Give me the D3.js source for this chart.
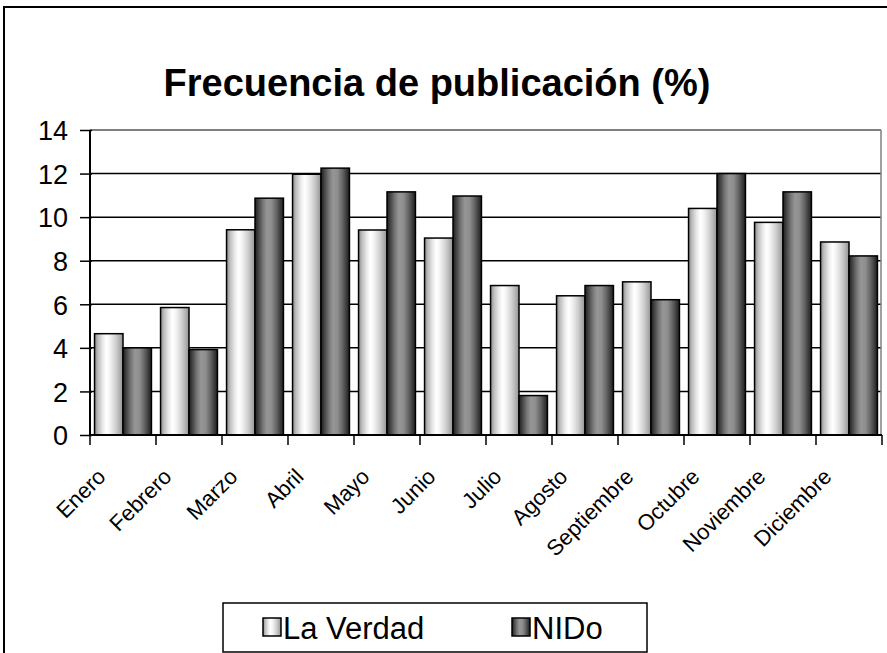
<!DOCTYPE html>
<html><head><meta charset="utf-8">
<script src="https://cdn.jsdelivr.net/npm/d3@7"></script>
<style>html,body{margin:0;padding:0;background:#fff}svg{display:block}text{font-family:"Liberation Sans",Arial,sans-serif;fill:#000}</style>
</head><body>
<svg id="c" width="887" height="653"></svg>
<script>
const title = "Frecuencia de publicación (%)";
const categories = ["Enero","Febrero","Marzo","Abril","Mayo","Junio","Julio","Agosto","Septiembre","Octubre","Noviembre","Diciembre"];
const seriesNames = ["La Verdad","NIDo"];
const laVerdad = [4.65, 5.85, 9.42, 11.97, 9.41, 9.04, 6.86, 6.39, 7.03, 10.40, 9.76, 8.86];
const nido     = [4.0, 3.92, 10.87, 12.25, 11.16, 10.97, 1.81, 6.86, 6.21, 12.0, 11.16, 8.22];
const yTicks = [0,2,4,6,8,10,12,14];

const svg = d3.select("#c");
const defs = svg.append("defs");
function grad(id, stops){
  const g = defs.append("linearGradient").attr("id", id).attr("x1","0%").attr("x2","100%").attr("y1","0%").attr("y2","0%");
  stops.forEach(s => g.append("stop").attr("offset", s[0]).attr("stop-color", s[1]));
}
grad("gLight", [["0%","#8a8a8a"],["12%","#bdbdbd"],["30%","#ececec"],["42%","#ffffff"],["55%","#f2f2f2"],["75%","#cfcfcf"],["92%","#a8a8a8"],["100%","#8c8c8c"]]);
grad("gDark", [["0%","#1e1e1e"],["12%","#444"],["28%","#777"],["42%","#969696"],["58%","#8e8e8e"],["75%","#666"],["90%","#3a3a3a"],["100%","#1e1e1e"]]);
const fills = {"La Verdad":"url(#gLight)","NIDo":"url(#gDark)"};

// outer frame
svg.append("rect").attr("x",4).attr("y",7).attr("width",900).attr("height",700)
  .attr("fill","none").attr("stroke","#000").attr("stroke-width",2);

// title
svg.append("text").attr("x",437).attr("y",96).attr("text-anchor","middle")
  .attr("font-size",38).attr("font-weight","bold").text(title);

const L = 90, R = 882, T = 130, B = 435;
const x0 = d3.scaleBand().domain(categories).range([L, R]).padding(0);
const x1 = d3.scaleBand().domain(seriesNames).range([0, x0.bandwidth()]).paddingInner(0).paddingOuter(0.16);
const y = d3.scaleLinear().domain([0,14]).range([B, T]);

// gridlines
svg.append("g").selectAll("line").data(yTicks.filter(t => t > 0 && t < 14)).join("line")
  .attr("x1", L).attr("x2", R-1).attr("y1", d => y(d)).attr("y2", d => y(d))
  .attr("stroke","#000").attr("stroke-width",1.5);
// top & right plot border (gray)
svg.append("line").attr("x1",L).attr("x2",R-1).attr("y1",y(14)).attr("y2",y(14)).attr("stroke","#808080").attr("stroke-width",2);
svg.append("line").attr("x1",R-1).attr("x2",R-1).attr("y1",y(14)).attr("y2",B).attr("stroke","#808080").attr("stroke-width",1.5);

// bars
const rows = categories.map((c,i) => ({cat:c, vals:[{s:"La Verdad", v:laVerdad[i]},{s:"NIDo", v:nido[i]}]}));
const gb = svg.append("g");
rows.forEach(r => {
  gb.selectAll(null).data(r.vals).join("rect")
    .attr("x", d => x0(r.cat) + x1(d.s))
    .attr("width", x1.bandwidth())
    .attr("y", d => y(d.v))
    .attr("height", d => B - y(d.v))
    .attr("fill", d => fills[d.s])
    .attr("stroke","#000").attr("stroke-width",1.5);
});

// y axis
const yAx = svg.append("g").attr("transform",`translate(${L},0)`)
  .call(d3.axisLeft(y).tickValues(yTicks).tickSize(10).tickPadding(12).tickFormat(d3.format("d")));
yAx.attr("font-size",null).attr("font-family",null);
yAx.select(".domain").attr("stroke","#000").attr("stroke-width",2).attr("d",`M0,${T}V${B}`);
yAx.selectAll(".tick line").attr("stroke","#000").attr("stroke-width",1.5).attr("x2",-10).attr("x1",2);
yAx.selectAll(".tick text").style("font-size","27px").attr("fill","#000").attr("dy","0.36em");

// x axis
const tickPos = categories.map(c => x0(c)).concat([R]);
svg.append("line").attr("x1",L).attr("x2",R).attr("y1",B).attr("y2",B).attr("stroke","#000").attr("stroke-width",2);
svg.append("g").selectAll("line").data(tickPos).join("line")
  .attr("x1",d=>d).attr("x2",d=>d).attr("y1",B).attr("y2",B+10).attr("stroke","#000").attr("stroke-width",1.5);
svg.append("g").selectAll("text").data(categories).join("text")
  .attr("transform", d => `translate(${x0(d) + x0.bandwidth()/2 - 16},${B+43}) rotate(-45)`)
  .attr("text-anchor","end").style("font-size","22px").text(d => d);

// legend
const lg = svg.append("g");
lg.append("rect").attr("x",223).attr("y",603).attr("width",424).attr("height",49)
  .attr("fill","#fff").attr("stroke","#000").attr("stroke-width",1.5);
const legX = [263, 512];
seriesNames.forEach((s,i) => {
  lg.append("rect").attr("x",legX[i]).attr("y",618).attr("width",18).attr("height",18)
    .attr("fill",fills[s]).attr("stroke","#000").attr("stroke-width",1.5);
  lg.append("text").attr("x",legX[i]+20).attr("y",639).style("font-size","31px").text(s);
});
</script>
</body></html>
